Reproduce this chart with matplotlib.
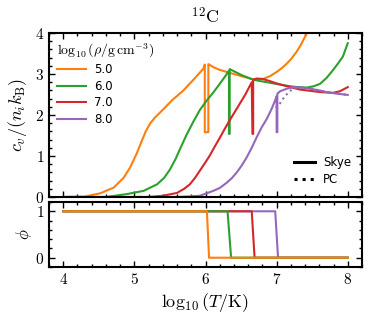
import matplotlib
matplotlib.use('Agg')
import matplotlib.pyplot as plt
from matplotlib.ticker import MultipleLocator, FuncFormatter
from matplotlib.lines import Line2D

plt.rcParams['font.family'] = 'serif'
plt.rcParams['font.serif'] = ['cmr10']
plt.rcParams['mathtext.fontset'] = 'cm'
plt.rcParams['axes.unicode_minus'] = False
plt.rcParams['axes.formatter.use_mathtext'] = True

# densities (log10 rho / g cm^-3)
densities = ['5.0', '6.0', '7.0', '8.0']
colors = ['#ff7f0e', '#2ca02c', '#d62728', '#9467bd']

# Skye specific heat
logT_5 = [4.0, 4.3, 4.52, 4.71, 4.85, 4.94, 5.03, 5.10, 5.16, 5.22, 5.29, 5.39,
          5.53, 5.69, 5.83, 5.97, 5.99, 5.99, 6.04, 6.04, 6.12, 6.2, 6.34, 6.5,
          6.67, 6.81, 6.91, 7.0, 7.07, 7.14, 7.21, 7.28, 7.34, 7.4, 7.45, 7.5]
cv_5 = [0.0, 0.01, 0.09, 0.23, 0.47, 0.72, 1.05, 1.35, 1.6, 1.79, 1.94, 2.11,
        2.36, 2.6, 2.86, 3.13, 3.23, 1.58, 1.58, 3.24, 3.16, 3.1, 3.03, 2.95,
        2.87, 2.88, 2.95, 3.05, 3.14, 3.25, 3.38, 3.54, 3.71, 3.91, 4.08, 4.25]

logT_6 = [4.0, 4.6, 4.89, 5.13, 5.32, 5.42, 5.5, 5.58, 5.66, 5.74, 5.83, 5.92,
          6.02, 6.11, 6.2, 6.28, 6.33, 6.33, 6.34, 6.34, 6.5, 6.67, 6.86, 7.02,
          7.19, 7.3, 7.42, 7.52, 7.61, 7.7, 7.79, 7.86, 7.93, 8.0]
cv_6 = [0.0, 0.0, 0.07, 0.15, 0.31, 0.47, 0.67, 0.93, 1.24, 1.54, 1.84, 2.12,
        2.36, 2.55, 2.76, 2.95, 3.08, 1.54, 1.54, 3.12, 2.98, 2.86, 2.8, 2.75,
        2.7, 2.68, 2.67, 2.7, 2.76, 2.9, 3.09, 3.25, 3.42, 3.75]

logT_7 = [4.0, 5.2, 5.4, 5.6, 5.7, 5.78, 5.85, 5.92, 6.0, 6.06, 6.13, 6.2, 6.27,
          6.34, 6.41, 6.48, 6.56, 6.65, 6.66, 6.67, 6.67, 6.72, 6.8, 6.9, 7.0,
          7.15, 7.33, 7.47, 7.61, 7.79, 7.89, 8.0]
cv_7 = [0.0, 0.0, 0.03, 0.1, 0.2, 0.31, 0.46, 0.64, 0.85, 1.01, 1.23, 1.44, 1.66,
        1.87, 2.07, 2.27, 2.5, 2.8, 1.54, 1.54, 2.86, 2.89, 2.88, 2.83, 2.77,
        2.7, 2.62, 2.59, 2.56, 2.54, 2.58, 2.68]

logT_8 = [4.0, 5.6, 5.92, 6.11, 6.2, 6.3, 6.37, 6.44, 6.51, 6.58, 6.65, 6.72,
          6.79, 6.86, 6.93, 6.98, 7.0, 7.0, 7.01, 7.01, 7.05, 7.14, 7.23, 7.35,
          7.47, 7.6, 7.7, 7.85, 8.0]
cv_8 = [0.0, 0.0, 0.03, 0.15, 0.22, 0.35, 0.46, 0.6, 0.77, 0.97, 1.2, 1.46,
        1.7, 1.9, 2.15, 2.36, 2.46, 1.58, 1.58, 2.52, 2.58, 2.64, 2.68, 2.67,
        2.64, 2.6, 2.56, 2.52, 2.49]

# PC liquid branch for rho = 1e8 (only part that differs visibly)
logT_pc8 = [6.99, 7.02, 7.05, 7.1, 7.16, 7.22, 7.3, 7.47, 7.6, 7.75, 7.9, 8.0]
cv_pc8 = [2.17, 2.23, 2.29, 2.42, 2.54, 2.63, 2.67, 2.65, 2.6, 2.55, 2.51, 2.49]

# phase indicator phi
phi_T = [[4.0, 6.02, 6.05, 8.0],
         [4.0, 6.31, 6.36, 8.0],
         [4.0, 6.65, 6.69, 8.0],
         [4.0, 6.98, 7.02, 8.0]]
phi_val = [1, 1, 0, 0]

skye_T = [logT_5, logT_6, logT_7, logT_8]
skye_cv = [cv_5, cv_6, cv_7, cv_8]

fig = plt.figure(figsize=(3.75, 3.23), dpi=100)
ax1 = fig.add_axes([0.1307, 0.3901, 0.8346, 0.5077])
ax2 = fig.add_axes([0.1307, 0.1734, 0.8346, 0.2012])

lw = 1.5
for i in range(4):
    ax1.plot(skye_T[i], skye_cv[i], color=colors[i], lw=lw, label=densities[i])
ax1.plot(logT_pc8, cv_pc8, color=colors[3], lw=lw, ls=':')

for i in [3, 2, 1, 0]:
    ax2.plot(phi_T[i], phi_val, color=colors[i], lw=lw)

ax1.set_xlim(3.8, 8.2)
ax1.set_ylim(0, 4)
ax2.set_xlim(3.8, 8.2)
ax2.set_ylim(-0.2, 1.2)

fmt = FuncFormatter(lambda v, p: '$%g$' % v)
for ax in (ax1, ax2):
    ax.xaxis.set_major_locator(MultipleLocator(1))
    ax.xaxis.set_minor_locator(MultipleLocator(0.2))
    ax.yaxis.set_minor_locator(MultipleLocator(0.2))
    ax.xaxis.set_major_formatter(fmt)
    ax.yaxis.set_major_formatter(fmt)
    ax.tick_params(which='both', direction='in', top=True, right=True,
                   labelsize=11, width=1)
    ax.tick_params(which='major', length=4)
    ax.tick_params(which='minor', length=2)
    for s in ax.spines.values():
        s.set_linewidth(1.5)
ax1.yaxis.set_major_locator(MultipleLocator(1))
ax2.yaxis.set_major_locator(MultipleLocator(1))
ax1.tick_params(labelbottom=False)

ax1.set_ylabel(r'$c_v/(n_i k_\mathrm{B})$', fontsize=13, labelpad=4)
ax2.set_ylabel(r'$\phi$', fontsize=12, labelpad=1)
ax2.set_xlabel(r'$\log_{10}(T/\mathrm{K})$', fontsize=13, labelpad=3)
ax1.set_title(r'$^{12}\mathrm{C}$', fontsize=13, pad=7)

leg1 = ax1.legend(title=r'$\log_{10}(\rho/\mathrm{g\,cm^{-3}})$', loc='upper left',
                  frameon=False, prop={'family': 'DejaVu Sans', 'size': 8.5},
                  title_fontsize=10, handlelength=2.4, handletextpad=0.7,
                  labelspacing=0.3, bbox_to_anchor=(0.0, 1.0),
                  borderaxespad=0.3)
leg1._legend_box.align = 'left'
ax1.add_artist(leg1)

style_handles = [Line2D([], [], color='k', lw=2.2, ls='-'),
                 Line2D([], [], color='k', lw=2.2, ls=':')]
ax1.legend(style_handles, ['Skye', 'PC'], loc='lower right', frameon=False,
           prop={'family': 'DejaVu Sans', 'size': 8.5}, handlelength=1.8,
           handletextpad=0.7, labelspacing=0.35, borderaxespad=0.5)

fig.savefig('out.png', dpi=100)
